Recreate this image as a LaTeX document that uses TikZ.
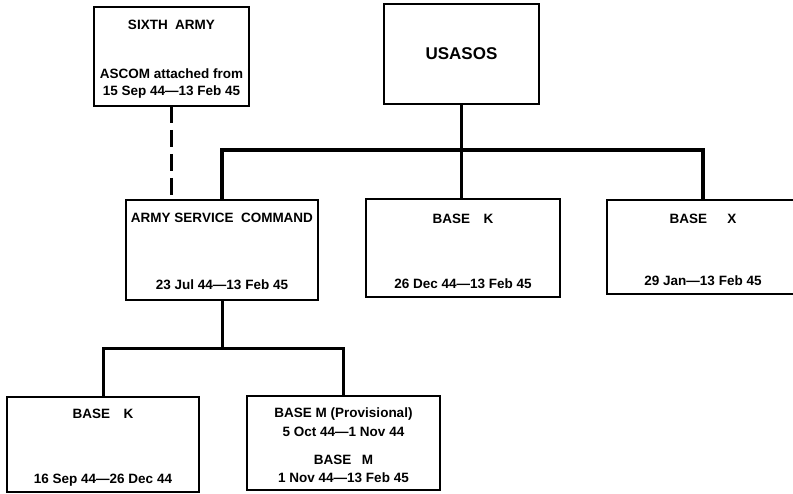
\documentclass[tikz,border=0pt]{standalone}
\usepackage{fontspec}
\setmainfont{Liberation Sans}
\usetikzlibrary{positioning}

\begin{document}
\begin{tikzpicture}[x=1pt,y=-1pt,font=\fontsize{13.5}{16}\bfseries\selectfont,
  unitbox/.style={draw,line width=2.2pt,inner sep=0pt,outer sep=0pt,anchor=north west},
  lbl/.style={inner sep=0pt,text height=9.5pt,text depth=2.5pt},
  link/.style={line width=3pt},
  attach/.style={line width=3.5pt,dash pattern=on 17pt off 7pt}]
  \useasboundingbox (0,0) rectangle (793,494);
  \clip (0,0) rectangle (793,494);
  \node[unitbox,minimum width=155,minimum height=99] (sixth) at (94,7) {};
  \node[unitbox,minimum width=155,minimum height=100] (usasos) at (384,4) {};
  \node[unitbox,minimum width=192,minimum height=100] (asc) at (126,200) {};
  \node[unitbox,minimum width=194,minimum height=98] (basek) at (366,199) {};
  \node[unitbox,minimum width=192,minimum height=94] (basex) at (607,200) {};
  \node[unitbox,minimum width=192,minimum height=95] (basekold) at (7,397) {};
  \node[unitbox,minimum width=193,minimum height=94] (basem) at (247,396) {};

  \node[lbl,below=13pt of sixth.north] (sixthname) {SIXTH~ ARMY};
  \node[lbl,above=8pt of sixth.south] (sixthdate) {15 Sep 44—13 Feb 45};
  \node[lbl,above=4pt of sixthdate] (sixthnote) {ASCOM attached from};
  \node[font=\fontsize{17}{20}\bfseries\selectfont] (usasosname) at (usasos.center) {USASOS};
  \node[lbl,below=13pt of asc.north] (ascname) {ARMY SERVICE~ COMMAND};
  \node[lbl,above=8pt of asc.south] (ascdate) {23 Jul 44—13 Feb 45};
  \node[lbl,below=15pt of basek.north] (basekname) {BASE\quad K};
  \node[lbl,above=6pt of basek.south] (basekdate) {26 Dec 44—13 Feb 45};
  \node[lbl,below=14pt of basex.north] (basexname) {BASE\quad\enspace X};
  \node[lbl,above=6pt of basex.south] (basexdate) {29 Jan—13 Feb 45};
  \node[lbl,below=12pt of basekold.north] (basekoldname) {BASE\quad K};
  \node[lbl,above=6pt of basekold.south] (basekolddate) {16 Sep 44—26 Dec 44};
  \node[lbl,below=12pt of basem.north] (provname) {BASE M (Provisional)};
  \node[lbl,below=6pt of provname] (provdate) {5 Oct 44—1 Nov 44};
  \node[lbl,below=16pt of provdate] (basemname) {BASE\enspace\ M};
  \node[lbl,below=6pt of basemname] (basemdate) {1 Nov 44—13 Feb 45};

  \coordinate (topbus) at (462,150);
  \coordinate (lowbus) at (222,349);
  \draw[attach] (sixth.south) -- (sixth.south |- asc.north);
  \draw[link] (usasos.south) -- (usasos.south |- basek.north);
  \draw[link,line width=3.5pt] (asc.north) |- (topbus) -| (basex.north);
  \draw[link] (asc.south) -- (lowbus);
  \draw[link] (basekold.north) |- (lowbus) -| (basem.north);
\end{tikzpicture}
\end{document}
